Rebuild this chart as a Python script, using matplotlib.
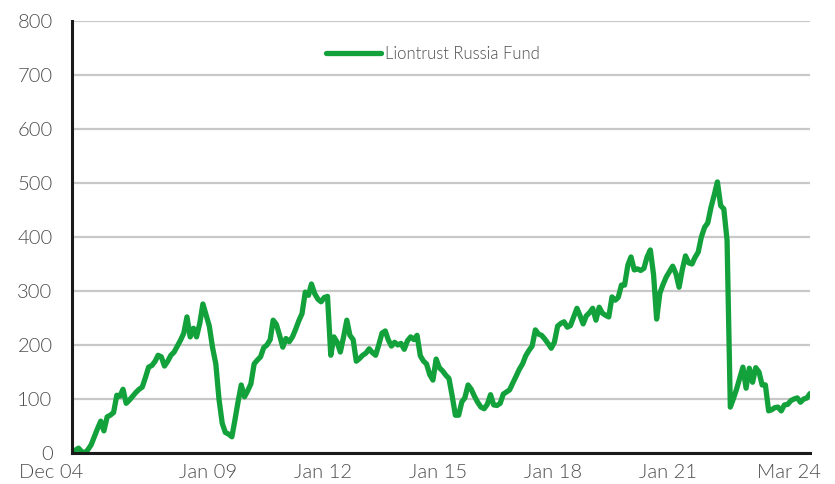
import matplotlib
matplotlib.use("Agg")
import matplotlib.pyplot as plt
import matplotlib.transforms as mtransforms
import pandas as pd

# monthly index values, Dec 2004 -> Mar 2024
fund_values = [
    0, 5, 9, 3, 0, 6, 15, 30, 45, 59, 41, 67,          # Dec04-Nov05
    70, 75, 107, 105, 118, 92, 98, 105, 112, 118, 122, 140,
    159, 162, 170, 181, 178, 161, 170, 181, 187, 198, 209, 222,
    252, 215, 231, 215, 240, 276, 255, 235, 195, 165, 100, 55,
    38, 35, 30, 60, 95, 126, 104, 115, 128, 165, 172, 178,
    195, 200, 210, 246, 238, 218, 196, 212, 206, 215, 229, 245,
    258, 298, 292, 313, 295, 285, 280, 288, 290, 181, 215, 205,
    187, 215, 246, 218, 210, 170, 175, 181, 185, 193, 186, 181,
    200, 222, 226, 210, 198, 205, 200, 203, 192, 208, 215, 210,
    218, 180, 170, 165, 145, 135, 174, 158, 152, 144, 138, 105,
    70, 70, 95, 102, 126, 118, 105, 94, 85, 82, 90, 108,
    89, 88, 92, 109, 113, 117, 130, 142, 155, 165, 180, 190,
    198, 228, 220, 218, 211, 203, 194, 205, 235, 240, 243, 233,
    236, 252, 268, 255, 239, 254, 260, 268, 246, 270, 259, 255,
    252, 289, 283, 288, 311, 311, 348, 363, 339, 341, 338, 342,
    363, 376, 330, 248, 296, 312, 326, 336, 346, 332, 307, 340,
    365, 352, 350, 362, 372, 400, 418, 426, 455, 478, 502, 458,
    452, 394, 85, 100, 118, 138, 159, 120, 157, 131, 158, 150,
    126, 126, 78, 80, 84, 85, 78, 89, 90, 97, 100, 102,
    94, 100, 102, 110,
]
dates = pd.date_range("2004-12-01", periods=len(fund_values), freq="MS")

tick_dates = ["2004-12-01", "2009-01-01", "2012-01-01", "2015-01-01",
              "2018-01-01", "2021-01-01", "2024-03-01"]
tick_labels = ["Dec 04", "Jan 09", "Jan 12", "Jan 15", "Jan 18", "Jan 21", "Mar 24"]

green = "#12a13b"
grey_txt = "#4d4d4d"
plt.rcParams["font.family"] = ["Lato", "DejaVu Sans"]
plt.rcParams["font.weight"] = 300

fig = plt.figure(figsize=(8.35, 4.84), dpi=100)
ax = fig.add_axes([72 / 835, 1 - 453 / 484, 738 / 835, 432 / 484])

ax.plot(dates, fund_values, color=green, lw=3.8, solid_joinstyle="round",
        solid_capstyle="round", label="Liontrust Russia Fund", zorder=3)

ax.set_xlim(dates[0], dates[-1])
ax.set_ylim(0, 800)
ax.set_yticks(range(0, 801, 100))
ax.set_xticks(pd.to_datetime(tick_dates))
ax.set_xticklabels(tick_labels)

ax.grid(axis="y", color="#c8c8c8", lw=1.6, zorder=0)
ax.set_axisbelow(True)
for s in ["top", "right"]:
    ax.spines[s].set_visible(False)
for s in ["left", "bottom"]:
    ax.spines[s].set_linewidth(2.2)
    ax.spines[s].set_color("#1a1a1a")
    ax.spines[s].set_zorder(4)

ax.tick_params(axis="y", length=0, pad=14, labelsize=14.5, labelcolor=grey_txt)
ax.tick_params(axis="x", length=0, pad=8, labelsize=14.5, labelcolor=grey_txt)

# labels sit a bit left of their dates in the original
shift = mtransforms.ScaledTranslation(-21 / 100, 0, fig.dpi_scale_trans)
for lab in ax.get_xticklabels():
    lab.set_transform(lab.get_transform() + shift)

leg = ax.legend(loc="center left", bbox_to_anchor=((326 - 72) / 738, (453 - 54) / 432),
                frameon=False, borderpad=0, borderaxespad=0, handlelength=3.3,
                handletextpad=0.25, fontsize=12)
for t in leg.get_texts():
    t.set_color(grey_txt)

fig.savefig("out.png", dpi=100)
